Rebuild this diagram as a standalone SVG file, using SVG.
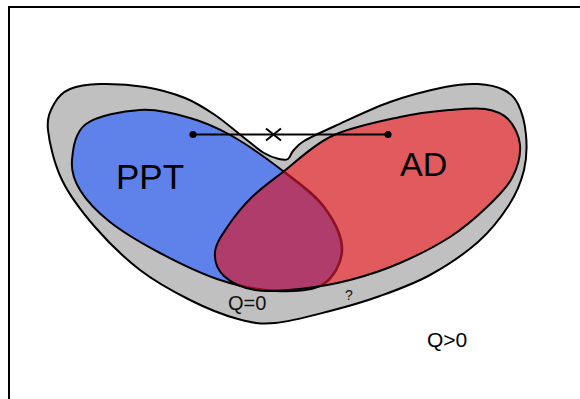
<svg xmlns="http://www.w3.org/2000/svg" width="580" height="399" viewBox="0 0 580 399">
<style>
.outline{stroke:#000;stroke-width:2;stroke-linejoin:round}
.lbl{font-family:"Liberation Sans",Arial,sans-serif;fill:#000}
.sm{font-family:"Liberation Sans",Arial,sans-serif;fill:#111}
.conn{stroke:#000;stroke-width:2;fill:none}
</style>
<defs>
<path id="bluePath" d="M72,160 C73,149 74.7,132.3 86,124 C97.3,115.7 122.7,111 140,110 C157.3,109 174.7,113.7 190,118 C205.3,122.3 216.5,127.2 232,136 C247.5,144.8 267.7,159.2 283,171 C298.3,182.8 314.2,193.8 324,207 C333.8,220.2 342.3,237 342,250 C341.7,263 333.2,278.2 322,285 C310.8,291.8 292,291.8 275,291 C258,290.2 239.2,286.3 220,280 C200.8,273.7 178.3,262.7 160,253 C141.7,243.3 123.3,232.5 110,222 C96.7,211.5 86.3,200.3 80,190 C73.7,179.7 71,171 72,160 Z"/>
<path id="redPath" d="M283,172 C296.3,161.8 312.5,145.2 332,136 C351.5,126.8 380.3,121.3 400,117 C419.7,112.7 435.8,111.3 450,110 C464.2,108.7 475.3,107.5 485,109 C494.7,110.5 502.2,113 508,119 C513.8,125 519.3,135.2 520,145 C520.7,154.8 517.5,167.7 512,178 C506.5,188.3 497.3,197.2 487,207 C476.7,216.8 464.5,227.7 450,237 C435.5,246.3 416.7,255.8 400,263 C383.3,270.2 366.7,275.7 350,280 C333.3,284.3 315.8,287.3 300,289 C284.2,290.7 267.7,292.2 255,290 C242.3,287.8 230.7,282.3 224,276 C217.3,269.7 214.3,260.3 215,252 C215.7,243.7 221.8,235.2 228,226 C234.2,216.8 242.8,206 252,197 C261.2,188 269.7,182.2 283,172 Z"/>
<clipPath id="redClip"><use href="#redPath"/></clipPath>
</defs>
<rect x="9" y="7" width="600" height="420" fill="#fff" stroke="#000" stroke-width="2"/>
<g id="region-q0">
<path class="outline" fill="#c0c0c0" d="M48,130 C46.7,117.3 50.3,110.8 54,104 C57.7,97.2 62.3,92.3 70,89 C77.7,85.7 87.5,84.3 100,84 C112.5,83.7 130.8,84.7 145,87 C159.2,89.3 173.3,93.3 185,98 C196.7,102.7 205.3,108.5 215,115 C224.7,121.5 234.8,130.7 243,137 C251.2,143.3 258,149.3 264,153 C270,156.7 275,158 279,159 C283,160 285.7,160.3 288,159 C290.3,157.7 290.3,154 293,151 C295.7,148 297,145.2 304,141 C311,136.8 320.7,132.5 335,126 C349.3,119.5 371.7,108.5 390,102 C408.3,95.5 430.3,90 445,87 C459.7,84 468.2,83.5 478,84 C487.8,84.5 497.3,86.7 504,90 C510.7,93.3 514.3,96.5 518,104 C521.7,111.5 525,124 526,135 C527,146 526.8,158.3 524,170 C521.2,181.7 516.7,193 509,205 C501.3,217 491.2,230.3 478,242 C464.8,253.7 446.3,266 430,275 C413.7,284 396.7,290 380,296 C363.3,302 347.5,306.5 330,311 C312.5,315.5 290.3,321.7 275,323 C259.7,324.3 252.2,322.8 238,319 C223.8,315.2 206.3,308.2 190,300 C173.7,291.8 155.8,282.2 140,270 C124.2,257.8 108,242 95,227 C82,212 69.8,196.2 62,180 C54.2,163.8 49.3,142.7 48,130 Z"/>
<text class="sm" x="228" y="310" font-size="20">Q=0</text>
<text class="sm" x="345" y="300" font-size="14" fill="#333">?</text>
</g>
<g id="ppt">
<use href="#bluePath" class="outline" fill="#5f82ea"/>
<text class="lbl" x="116" y="189" font-size="35">PPT</text>
</g>
<g id="ad">
<use href="#redPath" fill="#e05a5e"/>
<g clip-path="url(#redClip)">
<use href="#bluePath" fill="#b03c6c" stroke="#8b1222" stroke-width="2.6"/>
</g>
<use href="#redPath" class="outline" fill="none"/>
<text class="lbl" x="400" y="176" font-size="34">AD</text>
</g>
<g id="connectors">
<line class="conn" x1="193" y1="134.5" x2="388" y2="134.5"/>
<circle cx="193" cy="134.5" r="3.6" fill="#000"/>
<circle cx="388" cy="134.5" r="3.6" fill="#000"/>
<path class="conn" stroke-width="2.4" d="M266,128.5 L281,140.5 M266,140.5 L281,128.5"/>
</g>
<g id="outside">
<text class="lbl" x="427" y="347" font-size="21">Q&gt;0</text>
</g>
</svg>
